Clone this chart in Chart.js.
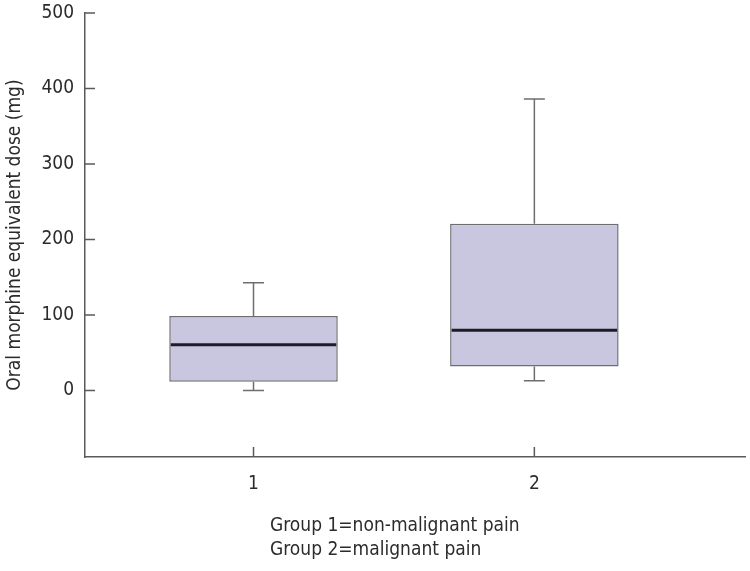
<!DOCTYPE html>
<html>
<head>
<meta charset="utf-8">
<script src="https://cdn.jsdelivr.net/npm/chart.js@4/dist/chart.umd.min.js"></script>
<style>
  html, body { margin: 0; padding: 0; background: #ffffff; }
  canvas { display: block; }
</style>
</head>
<body>
<canvas id="c" width="750" height="571"></canvas>
<script>
// ---- data ----
const GROUPS = ['1', '2'];
const GROUP_X = [1, 2];
const WHISKER_MIN = [0, 13];
const Q1 = [11.5, 31.7];
const MEDIAN = [60.5, 79.7];
const Q3 = [98.7, 221];
const WHISKER_MAX = [142.7, 386];
const Y_TICKS = [0, 100, 200, 300, 400, 500];
const Y_TITLE = 'Oral morphine equivalent dose (mg)';
const NOTE_LINES = ['Group 1=non-malignant pain', 'Group 2=malignant pain'];

const FONT = '"Liberation Sans Narrow", "DejaVu Sans Condensed", "Roboto", sans-serif';
const FONT_SIZE = 19;
const TEXT = '#2b2b2b';
const AXIS = '#5a5a5a';

const boxPlugin = {
  id: 'boxExtras',
  afterDatasetsDraw(chart) {
    const ctx = chart.ctx;
    const xs = chart.scales.x, ys = chart.scales.y;
    const meta = chart.getDatasetMeta(0);
    ctx.save();
    // whiskers
    ctx.strokeStyle = '#6e6e6e';
    ctx.lineWidth = 1.5;
    GROUP_X.forEach((gx, i) => {
      const x = xs.getPixelForValue(gx);
      const capHalf = 10.5;
      ctx.beginPath();
      ctx.moveTo(x, ys.getPixelForValue(Q3[i]));
      ctx.lineTo(x, ys.getPixelForValue(WHISKER_MAX[i]));
      ctx.moveTo(x - capHalf, ys.getPixelForValue(WHISKER_MAX[i]));
      ctx.lineTo(x + capHalf, ys.getPixelForValue(WHISKER_MAX[i]));
      ctx.moveTo(x, ys.getPixelForValue(Q1[i]));
      ctx.lineTo(x, ys.getPixelForValue(WHISKER_MIN[i]));
      ctx.moveTo(x - capHalf, ys.getPixelForValue(WHISKER_MIN[i]));
      ctx.lineTo(x + capHalf, ys.getPixelForValue(WHISKER_MIN[i]));
      ctx.stroke();
    });
    // medians
    ctx.strokeStyle = '#1c1c26';
    ctx.lineWidth = 3;
    GROUP_X.forEach((gx, i) => {
      const bar = meta.data[i];
      const y = ys.getPixelForValue(MEDIAN[i]);
      ctx.beginPath();
      ctx.moveTo(bar.x - bar.width / 2 + 1.5, y);
      ctx.lineTo(bar.x + bar.width / 2 - 1.5, y);
      ctx.stroke();
    });
    // inward tick marks
    ctx.strokeStyle = AXIS;
    ctx.lineWidth = 1.5;
    ctx.beginPath();
    Y_TICKS.forEach(v => {
      const y = ys.getPixelForValue(v);
      ctx.moveTo(xs.left, y);
      ctx.lineTo(xs.left + 10, y);
    });
    GROUP_X.forEach(gx => {
      const x = xs.getPixelForValue(gx);
      ctx.moveTo(x, ys.bottom);
      ctx.lineTo(x, ys.bottom - 10);
    });
    ctx.stroke();
    // note below the axis
    ctx.fillStyle = TEXT;
    ctx.font = FONT_SIZE + 'px ' + FONT;
    ctx.textAlign = 'left';
    ctx.textBaseline = 'alphabetic';
    NOTE_LINES.forEach((line, k) => {
      ctx.fillText(line, 270, 531 + k * 24);
    });
    ctx.restore();
  }
};

new Chart(document.getElementById('c'), {
  type: 'bar',
  data: {
    datasets: [{
      label: 'Box',
      data: GROUP_X.map((gx, i) => ({ x: gx, y: [Q1[i], Q3[i]] })),
      backgroundColor: '#c9c7e0',
      borderColor: '#6e6e6e',
      borderWidth: 1.5,
      borderSkipped: false,
      categoryPercentage: 1,
      barPercentage: 0.6
    }]
  },
  options: {
    responsive: false,
    animation: false,
    devicePixelRatio: 1,
    layout: { padding: { top: 13, right: 5, left: 0, bottom: 0 } },
    plugins: { legend: { display: false }, tooltip: { enabled: false } },
    scales: {
      x: {
        type: 'linear',
        offset: false,
        min: 0.4,
        max: 2.75,
        afterBuildTicks(scale) { scale.ticks = GROUP_X.map(v => ({ value: v })); },
        afterFit(scale) { scale.height = 114; scale.paddingLeft = 0; scale.paddingRight = 0; },
        grid: { display: true, offset: false, drawOnChartArea: false, drawTicks: false },
        border: { display: true, color: AXIS, width: 1.5 },
        ticks: {
          padding: 16,
          color: TEXT,
          font: { family: FONT, size: FONT_SIZE },
          callback: (v) => GROUPS[GROUP_X.indexOf(v)] ?? ''
        }
      },
      y: {
        min: -88,
        max: 500,
        afterBuildTicks(scale) { scale.ticks = Y_TICKS.map(v => ({ value: v })); },
        afterFit(scale) { scale.width = 85; scale.paddingTop = 0; scale.paddingBottom = 0; },
        grid: { display: true, drawOnChartArea: false, drawTicks: false },
        border: { display: true, color: AXIS, width: 1.5 },
        ticks: {
          padding: 11,
          color: TEXT,
          font: { family: FONT, size: FONT_SIZE }
        },
        title: {
          display: true,
          text: Y_TITLE,
          color: TEXT,
          font: { family: FONT, size: FONT_SIZE },
          padding: { top: 4, bottom: 0 }
        }
      }
    }
  },
  plugins: [boxPlugin]
});
</script>
</body>
</html>
